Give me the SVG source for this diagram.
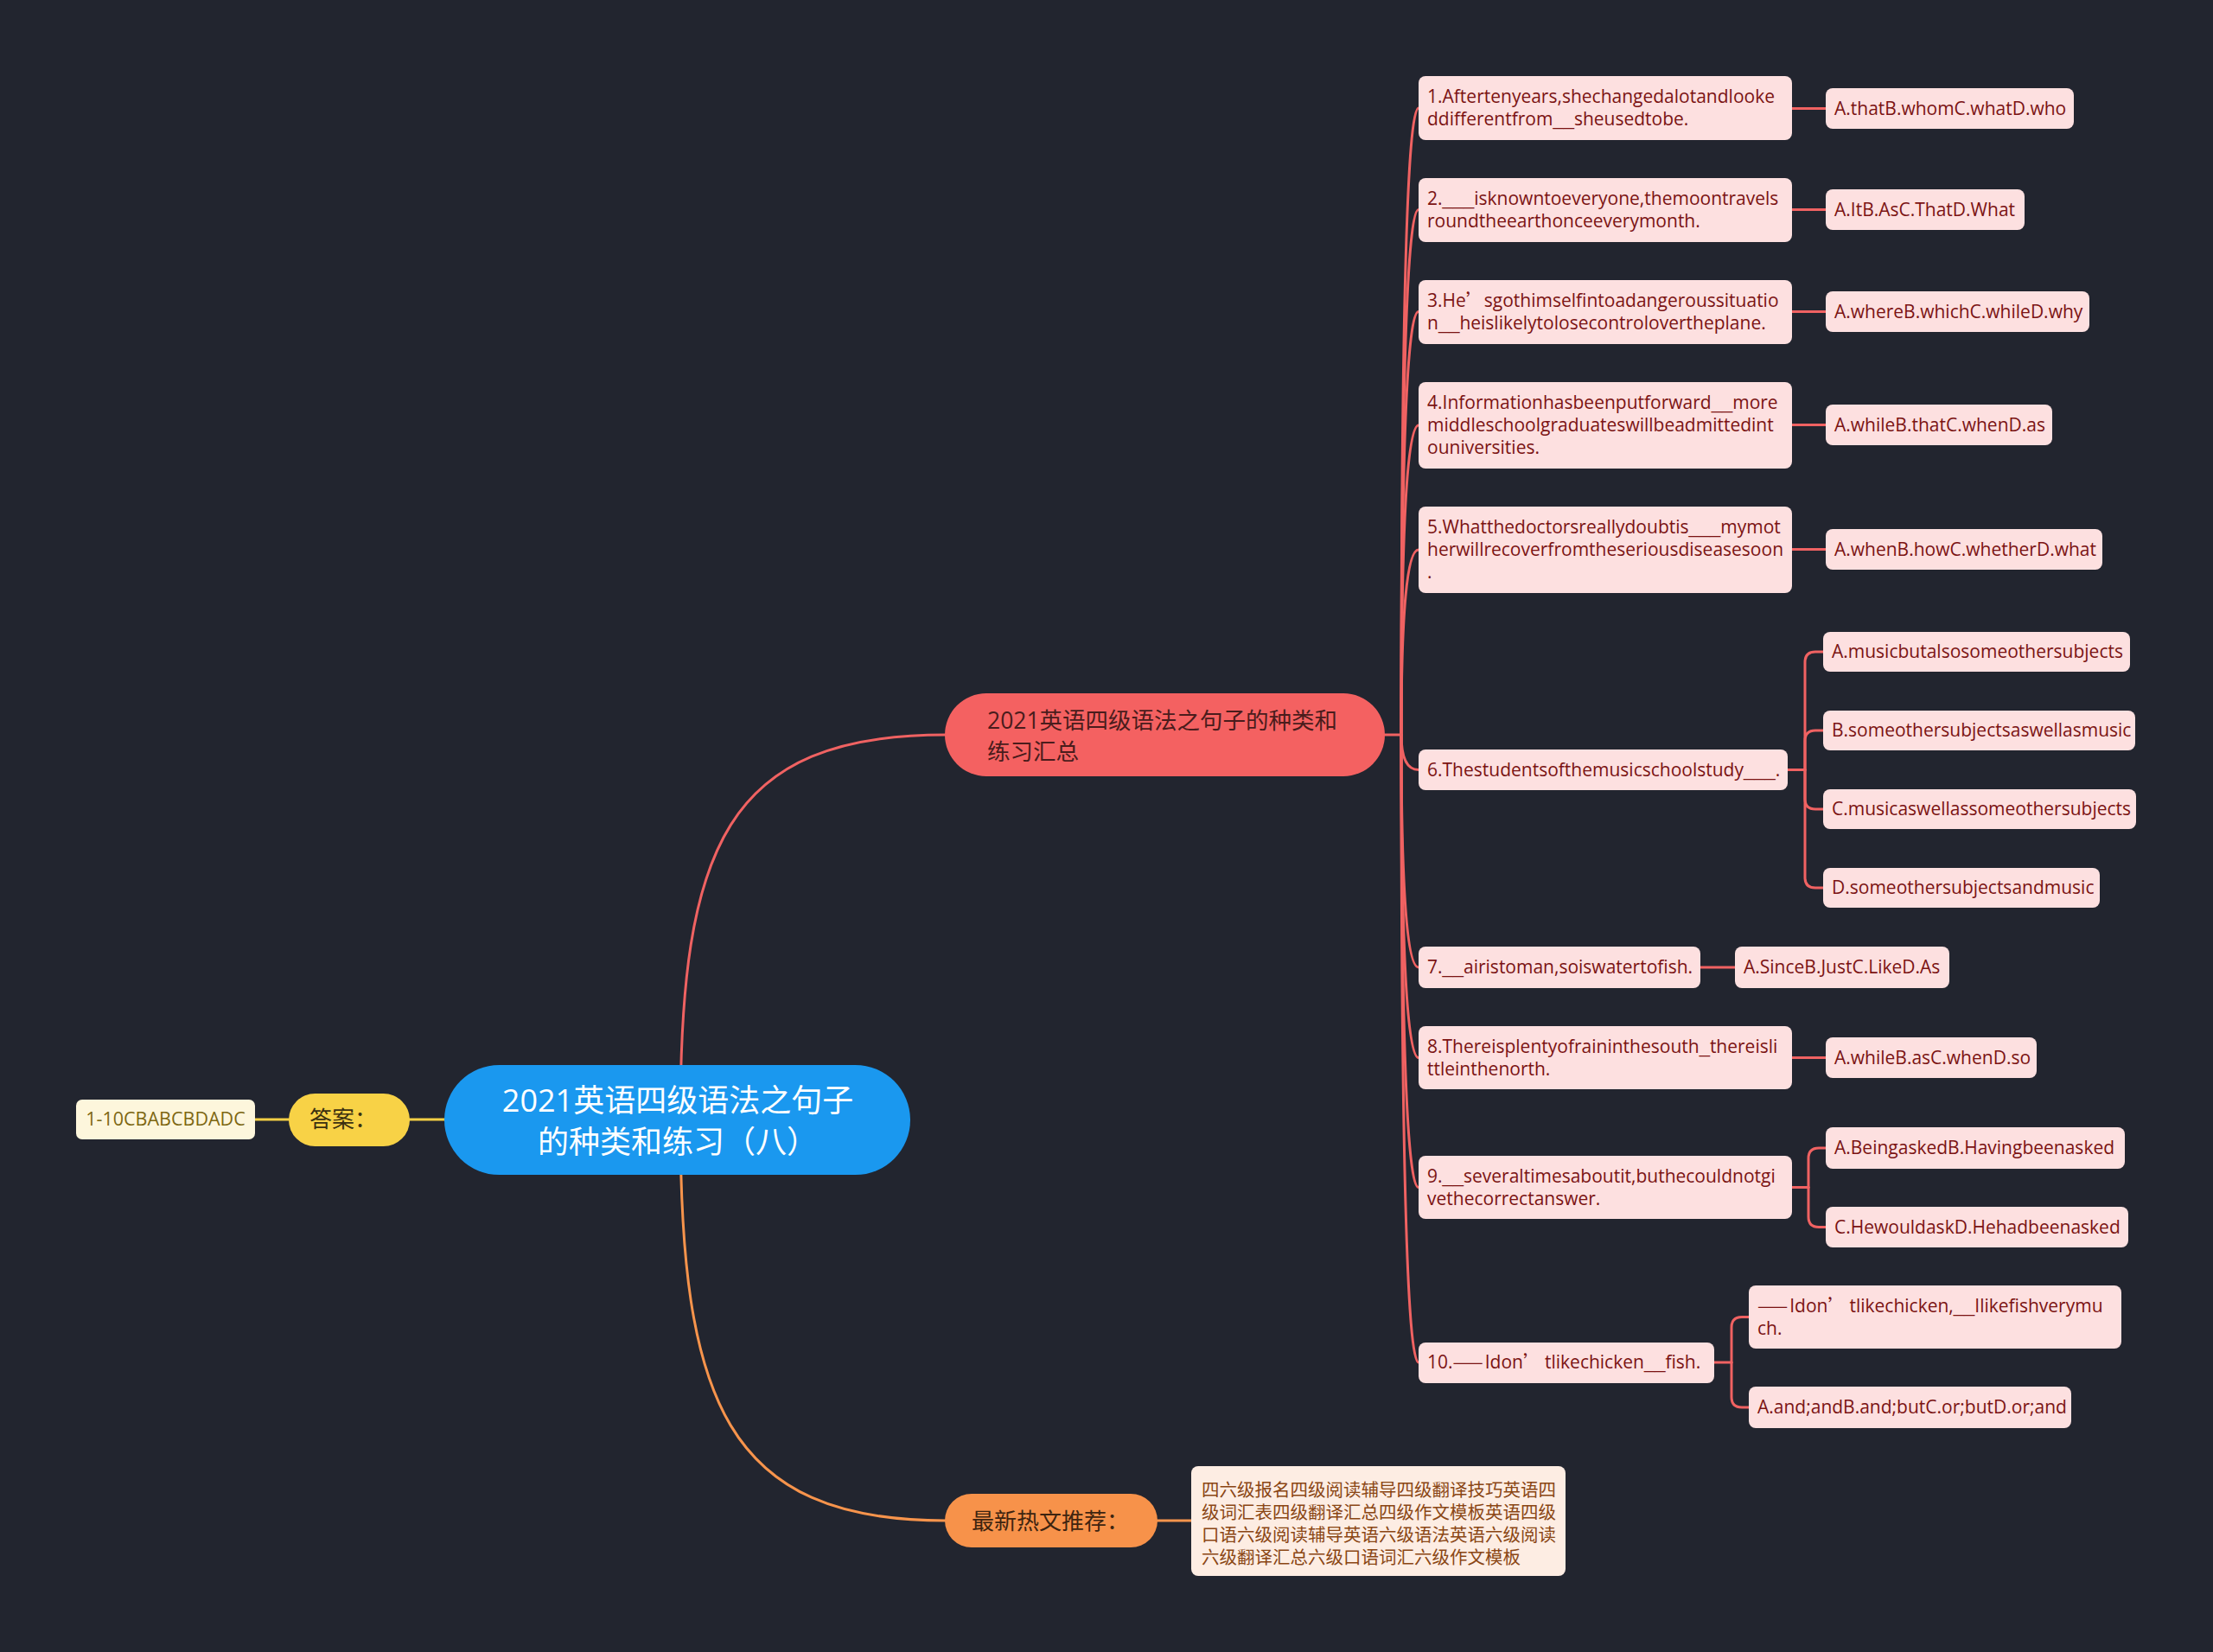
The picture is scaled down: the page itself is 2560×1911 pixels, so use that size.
<svg xmlns="http://www.w3.org/2000/svg" width="2560" height="1911" viewBox="0 0 2560 1911">
<style>
.bg{fill:#22252f}
.ln{fill:none;stroke-width:3;stroke-linecap:round}
.red{stroke:#f06262}
.org{stroke:#f7944c}
.yel{stroke:#f5cf45}
.box{fill:#fde0e0}
.t{font-family:"Open Sans","Noto Sans CJK SC",sans-serif;font-size:21px;fill:#7b1313}
.cj{font-family:"Noto Sans CJK SC",sans-serif}
.u{font-family:"Liberation Sans",sans-serif;font-size:22px}
.d{letter-spacing:2px}
.q{letter-spacing:4px}
.root{fill:#1a98ef}
.rt{font-family:"Open Sans","Noto Sans CJK SC",sans-serif;font-size:36px;fill:#ffffff;text-anchor:middle}
.p1{fill:#f46161}
.p1t{font-family:"Open Sans","Noto Sans CJK SC",sans-serif;font-size:26.5px;fill:#4a1c1c}
.p2{fill:#f7924a}
.p2t{font-family:"Noto Sans CJK SC",sans-serif;font-size:26px;fill:#3e2410}
.ans{fill:#f8d246}
.anst{font-family:"Noto Sans CJK SC",sans-serif;font-size:26px;fill:#3b3010}
.al{fill:#fdf6dc}
.alt{font-family:"Open Sans","Noto Sans CJK SC",sans-serif;font-size:21.5px;fill:#7d6712;text-anchor:middle}
.pl{fill:#fdede3}
.plt{font-family:"Noto Sans CJK SC",sans-serif;font-size:20.5px;fill:#8a4614}
</style>
<rect class="bg" x="0" y="0" width="2560" height="1911"/>

<g id="connectors">
  <path class="ln yel" d="M783 1295 H404"/>
  <path class="ln yel" d="M404 1295 H191"/>
  <path class="ln red" d="M787 1295 C787 980 840 850 1094 850"/>
  <path class="ln org" d="M787 1295 C787 1620 840 1759 1094 1759"/>
  <path class="ln org" d="M1339 1759 H1378"/>
  <path class="ln red" d="M1602 850 H1621"/>
  <path class="ln red" d="M1621 850 Q1621 125 1641 125"/>
  <path class="ln red" d="M1621 850 Q1621 242.5 1641 242.5"/>
  <path class="ln red" d="M1621 850 Q1621 360.5 1641 360.5"/>
  <path class="ln red" d="M1621 850 Q1621 492 1641 492"/>
  <path class="ln red" d="M1621 850 Q1621 636 1641 636"/>
  <path class="ln red" d="M1621 850 Q1621 890.5 1641 890.5"/>
  <path class="ln red" d="M1621 850 Q1621 1119 1641 1119"/>
  <path class="ln red" d="M1621 850 Q1621 1223.5 1641 1223.5"/>
  <path class="ln red" d="M1621 850 Q1621 1373.5 1641 1373.5"/>
  <path class="ln red" d="M1621 850 Q1621 1576 1641 1576"/>
  <path class="ln red" d="M2073 125.5 H2112"/>
  <path class="ln red" d="M2073 242.5 H2112"/>
  <path class="ln red" d="M2073 360.5 H2112"/>
  <path class="ln red" d="M2073 491.5 H2112"/>
  <path class="ln red" d="M2073 635.5 H2112"/>
  <path class="ln red" d="M1967 1119 H2007"/>
  <path class="ln red" d="M2073 1223.5 H2112"/>
  <path class="ln red" d="M2068 890.5 H2088"/>
  <path class="ln red" d="M2088 890.5 V766 Q2088 754 2100 754 H2109"/>
  <path class="ln red" d="M2088 890.5 V857 Q2088 845 2100 845 H2109"/>
  <path class="ln red" d="M2088 890.5 V924 Q2088 936 2100 936 H2109"/>
  <path class="ln red" d="M2088 890.5 V1015 Q2088 1027 2100 1027 H2109"/>
  <path class="ln red" d="M2073 1373.5 H2092"/>
  <path class="ln red" d="M2092 1373.5 V1340 Q2092 1328 2104 1328 H2112"/>
  <path class="ln red" d="M2092 1373.5 V1407.5 Q2092 1419.5 2104 1419.5 H2112"/>
  <path class="ln red" d="M1983 1576 H2003"/>
  <path class="ln red" d="M2003 1576 V1535.5 Q2003 1523.5 2015 1523.5 H2023"/>
  <path class="ln red" d="M2003 1576 V1616 Q2003 1628 2015 1628 H2023"/>
</g>

<g id="root">
  <rect class="root" x="514" y="1232" width="539" height="127" rx="63.5"/>
  <text class="rt" x="784" y="1286">2021英语四级语法之句子</text>
  <text class="rt" x="784" y="1334">的种类和练习（八）</text>
</g>

<g id="answer">
  <rect class="ans" x="334" y="1265" width="140" height="61" rx="30.5"/>
  <text class="anst" x="358" y="1304">答案：</text>
</g>
<g id="answer-leaf">
  <rect class="al" x="88" y="1272" width="207" height="46" rx="7"/>
  <text class="alt" x="191.5" y="1302">1-10CBABCBDADC</text>
</g>

<g id="branch-main">
  <rect class="p1" x="1093" y="802" width="509" height="96" rx="48"/>
  <text class="p1t" x="1142" y="843">2021英语四级语法之句子的种类和</text>
  <text class="p1t" x="1142" y="879">练习汇总</text>
</g>

<g id="branch-hot">
  <rect class="p2" x="1093" y="1728" width="246" height="62" rx="31"/>
  <text class="p2t" x="1124" y="1769">最新热文推荐：</text>
</g>
<g id="hot-leaf">
  <rect class="pl" x="1378" y="1696" width="433" height="127" rx="8"/>
  <text class="plt" x="1390" y="1731">四六级报名四级阅读辅导四级翻译技巧英语四</text>
  <text class="plt" x="1390" y="1757">级词汇表四级翻译汇总四级作文模板英语四级</text>
  <text class="plt" x="1390" y="1783">口语六级阅读辅导英语六级语法英语六级阅读</text>
  <text class="plt" x="1390" y="1809">六级翻译汇总六级口语词汇六级作文模板</text>
</g>

<g id="q1">
  <rect class="box" x="1641" y="88" width="432" height="74" rx="8"/>
  <text class="t" x="1651" y="119">1.Aftertenyears,shechangedalotandlooke</text>
  <text class="t" x="1651" y="145">ddifferentfrom<tspan class="u">__</tspan>sheusedtobe.</text>
</g>
<g id="a1">
  <rect class="box" x="2112" y="102" width="287" height="47" rx="8"/>
  <text class="t" x="2122" y="132.5">A.thatB.whomC.whatD.who</text>
</g>

<g id="q2">
  <rect class="box" x="1641" y="206" width="432" height="74" rx="8"/>
  <text class="t" x="1651" y="236.5">2.<tspan class="u">___</tspan>isknowntoeveryone,themoontravels</text>
  <text class="t" x="1651" y="262.5">roundtheearthonceeverymonth.</text>
</g>
<g id="a2">
  <rect class="box" x="2112" y="219" width="230" height="47" rx="8"/>
  <text class="t" x="2122" y="249.5">A.ItB.AsC.ThatD.What</text>
</g>

<g id="q3">
  <rect class="box" x="1641" y="324" width="432" height="74" rx="8"/>
  <text class="t" x="1651" y="354.5">3.He<tspan class="cj">’</tspan>sgothimselfintoadangeroussituatio</text>
  <text class="t" x="1651" y="380.5">n<tspan class="u">__</tspan>heislikelytolosecontrolovertheplane.</text>
</g>
<g id="a3">
  <rect class="box" x="2112" y="337" width="305" height="47" rx="8"/>
  <text class="t" x="2122" y="367.5">A.whereB.whichC.whileD.why</text>
</g>

<g id="q4">
  <rect class="box" x="1641" y="442" width="432" height="100" rx="8"/>
  <text class="t" x="1651" y="473">4.Informationhasbeenputforward<tspan class="u">__</tspan>more</text>
  <text class="t" x="1651" y="499">middleschoolgraduateswillbeadmittedint</text>
  <text class="t" x="1651" y="525">ouniversities.</text>
</g>
<g id="a4">
  <rect class="box" x="2112" y="468" width="262" height="47" rx="8"/>
  <text class="t" x="2122" y="498.5">A.whileB.thatC.whenD.as</text>
</g>

<g id="q5">
  <rect class="box" x="1641" y="586" width="432" height="100" rx="8"/>
  <text class="t" x="1651" y="617">5.Whatthedoctorsreallydoubtis<tspan class="u">___</tspan>mymot</text>
  <text class="t" x="1651" y="643">herwillrecoverfromtheseriousdiseasesoon</text>
  <text class="t" x="1651" y="669">.</text>
</g>
<g id="a5">
  <rect class="box" x="2112" y="612" width="320" height="47" rx="8"/>
  <text class="t" x="2122" y="642.5">A.whenB.howC.whetherD.what</text>
</g>

<g id="q6">
  <rect class="box" x="1641" y="867" width="427" height="47" rx="8"/>
  <text class="t" x="1651" y="897.5">6.Thestudentsofthemusicschoolstudy<tspan class="u">___</tspan>.</text>
</g>
<g id="a6a">
  <rect class="box" x="2109" y="731" width="355" height="46" rx="8"/>
  <text class="t" x="2119" y="761">A.musicbutalsosomeothersubjects</text>
</g>
<g id="a6b">
  <rect class="box" x="2109" y="822" width="361" height="46" rx="8"/>
  <text class="t" x="2119" y="852">B.someothersubjectsaswellasmusic</text>
</g>
<g id="a6c">
  <rect class="box" x="2109" y="913" width="362" height="46" rx="8"/>
  <text class="t" x="2119" y="943">C.musicaswellassomeothersubjects</text>
</g>
<g id="a6d">
  <rect class="box" x="2109" y="1004" width="320" height="46" rx="8"/>
  <text class="t" x="2119" y="1034">D.someothersubjectsandmusic</text>
</g>

<g id="q7">
  <rect class="box" x="1641" y="1095" width="326" height="48" rx="8"/>
  <text class="t" x="1651" y="1126">7.<tspan class="u">__</tspan>airistoman,soiswatertofish.</text>
</g>
<g id="a7">
  <rect class="box" x="2007" y="1095" width="248" height="48" rx="8"/>
  <text class="t" x="2017" y="1126">A.SinceB.JustC.LikeD.As</text>
</g>

<g id="q8">
  <rect class="box" x="1641" y="1187" width="432" height="73" rx="8"/>
  <text class="t" x="1651" y="1217.5">8.Thereisplentyofraininthesouth<tspan class="u">_</tspan>thereisli</text>
  <text class="t" x="1651" y="1243.5">ttleinthenorth.</text>
</g>
<g id="a8">
  <rect class="box" x="2112" y="1200" width="244" height="47" rx="8"/>
  <text class="t" x="2122" y="1230.5">A.whileB.asC.whenD.so</text>
</g>

<g id="q9">
  <rect class="box" x="1641" y="1337" width="432" height="73" rx="8"/>
  <text class="t" x="1651" y="1367.5">9.<tspan class="u">__</tspan>severaltimesaboutit,buthecouldnotgi</text>
  <text class="t" x="1651" y="1393.5">vethecorrectanswer.</text>
</g>
<g id="a9a">
  <rect class="box" x="2112" y="1304" width="346" height="48" rx="8"/>
  <text class="t" x="2122" y="1335">A.BeingaskedB.Havingbeenasked</text>
</g>
<g id="a9b">
  <rect class="box" x="2112" y="1396" width="350" height="47" rx="8"/>
  <text class="t" x="2122" y="1426.5">C.HewouldaskD.Hehadbeenasked</text>
</g>

<g id="q10">
  <rect class="box" x="1641" y="1553" width="342" height="47" rx="8"/>
  <text class="t" x="1651" y="1583">10.<tspan class="cj d">——</tspan>Idon<tspan class="cj q">’</tspan>tlikechicken<tspan class="u">__</tspan>fish.</text>
</g>
<g id="a10a">
  <rect class="box" x="2023" y="1487" width="431" height="73" rx="8"/>
  <text class="t" x="2033" y="1517.5"><tspan class="cj d">——</tspan>Idon<tspan class="cj q">’</tspan>tlikechicken,<tspan class="u">__</tspan>Ilikefishverymu</text>
  <text class="t" x="2033" y="1543.5">ch.</text>
</g>
<g id="a10b">
  <rect class="box" x="2023" y="1604" width="373" height="48" rx="8"/>
  <text class="t" x="2033" y="1635">A.and;andB.and;butC.or;butD.or;and</text>
</g>
</svg>
